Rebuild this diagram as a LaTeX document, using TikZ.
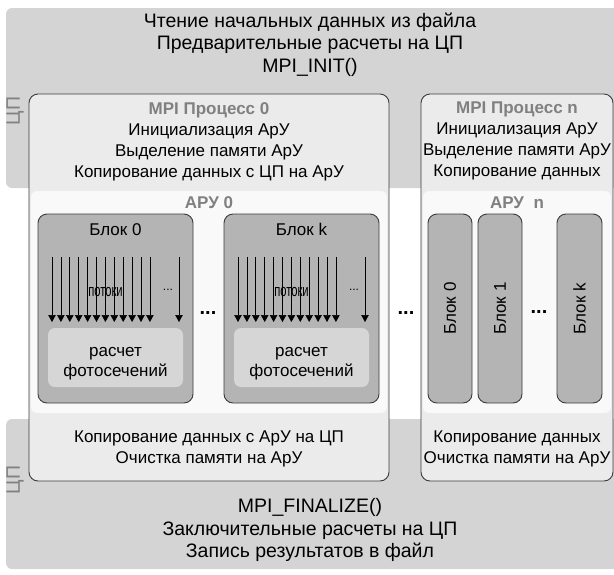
\documentclass[tikz,border=0pt]{standalone}
\usepackage{fontspec}
\setmainfont{Liberation Sans}
\usetikzlibrary{positioning,arrows.meta}
\definecolor{cpubg}{HTML}{D4D4D4}
\definecolor{procbg}{HTML}{EBEBEB}
\definecolor{arubg}{HTML}{F9F9F9}
\definecolor{blockbg}{HTML}{B4B4B4}
\definecolor{calcbg}{HTML}{D6D6D6}
\definecolor{lblgray}{HTML}{808080}
\definecolor{edgegray}{HTML}{3C3C3C}

\tikzset{
  box/.style={anchor=north west, inner sep=0pt, outer sep=0pt},
  band/.style={box, fill=cpubg, rounded corners=6pt},
  procbox/.style={box, draw=edgegray, fill=procbg, rounded corners=9pt, line width=0.9pt, minimum height=387pt},
  arubox/.style={box, fill=arubg, rounded corners=6pt, minimum height=222pt},
  blockbox/.style={box, draw=edgegray, fill=blockbg, rounded corners=9pt, line width=0.9pt, minimum height=189pt},
  calcbox/.style={box, fill=calcbg, rounded corners=7pt, minimum width=135pt, minimum height=59pt},
  bigtext/.style={inner sep=0pt, anchor=north, align=center, font=\fontsize{19.5}{22.5}\selectfont},
  proctext/.style={inner sep=0pt, anchor=north, align=center, font=\fontsize{17}{21}\selectfont},
  arutitle/.style={inner sep=0pt, anchor=base, text=lblgray, font=\fontsize{17}{20}\selectfont\bfseries},
  blocktext/.style={inner sep=0pt, font=\fontsize{17}{20}\selectfont},
  cpulabel/.style={inner sep=0pt, rotate=90, text=lblgray, font=\fontsize{19.5}{22}\selectfont},
  threadtext/.style={inner sep=0pt, anchor=base, font=\fontsize{17}{19}\selectfont},
  smalldots/.style={inner sep=0pt, anchor=base, font=\fontsize{12}{14}\selectfont},
  dots/.style={inner sep=0pt, font=\fontsize{20}{22}\selectfont\bfseries},
  thread/.style={-{Triangle[width=7.5pt,length=7pt]}, line width=0.7pt},
}

\begin{document}
\begin{tikzpicture}[x=1pt, y=-1pt]
  \useasboundingbox (0,0) rectangle (614,574);

  % CPU bands, top and bottom
  \node[band, minimum width=620pt, minimum height=180pt] (cpuTop) at (6,8) {};
  \node[band, minimum width=620pt, minimum height=150pt] (cpuBot) at (6,419) {};
  \node[cpulabel] (cpuTopLbl) at (15,111) {ЦП};
  \node[cpulabel] (cpuBotLbl) at (15,480) {ЦП};
  \node[bigtext] (initTxt) at (310,12.5) {Чтение начальных данных из файла\\Предварительные расчеты на ЦП\\MPI\_INIT()};
  \node[bigtext] (finTxt) at (310,498.5) {MPI\_FINALIZE()\\Заключительные расчеты на ЦП\\Запись результатов в файл};

  % MPI process 0 (x: 29 to 389)
  \node[procbox, minimum width=360pt] (proc0) at (29,94) {};
  \node[proctext] (proc0Top) at (209,102) {{\bfseries\color{lblgray}MPI Процесс 0}\\Инициализация АрУ\\Выделение памяти АрУ\\Копирование данных с ЦП на АрУ};
  \node[arubox, minimum width=356pt] (aru0) at (31,191) {};
  \node[arutitle] (aru0Ttl) at (209,208) {АРУ 0};
  \node[proctext] (proc0Bot) at (209,431) {Копирование данных с АрУ на ЦП\\Очистка памяти на АрУ};

  % Block 0 of APU 0
  \node[blockbox, minimum width=155pt] (block0) at (38,214) {};
  \node[blocktext, anchor=base] (block0Ttl) at (115.5,235) {Блок 0};
  \foreach \i in {0,...,11} {
    \coordinate (t0s\i) at (52+8.9*\i,257);
    \coordinate (t0e\i) at (52+8.9*\i,322);
    \draw[thread] (t0s\i) -- (t0e\i);
  }
  \coordinate (t0sn) at (179,257);
  \coordinate (t0en) at (179,322);
  \draw[thread] (t0sn) -- (t0en);
  \node[threadtext] (thr0) at (105.5,296) {\scalebox{0.66}[1]{потоки}};
  \node[smalldots] (thr0Dots) at (168,290) {...};
  \node[calcbox] (calc0) at (48,328) {};
  \node[blocktext, align=center] (calc0Txt) at (115.5,364) {расчет\\фотосечений};

  \node[dots] (blkDots) at (208,313) {...};

  % Block k of APU 0
  \node[blockbox, minimum width=155pt] (blockk) at (224,214) {};
  \node[blocktext, anchor=base] (blockkTtl) at (301.5,235) {Блок k};
  \foreach \i in {0,...,11} {
    \coordinate (tks\i) at (238+8.9*\i,257);
    \coordinate (tke\i) at (238+8.9*\i,322);
    \draw[thread] (tks\i) -- (tke\i);
  }
  \coordinate (tksn) at (365,257);
  \coordinate (tken) at (365,322);
  \draw[thread] (tksn) -- (tken);
  \node[threadtext] (thrk) at (291.5,296) {\scalebox{0.66}[1]{потоки}};
  \node[smalldots] (thrkDots) at (354,290) {...};
  \node[calcbox] (calck) at (234,328) {};
  \node[blocktext, align=center] (calckTxt) at (301.5,364) {расчет\\фотосечений};

  \node[dots] (procDots) at (406,313) {...};

  % MPI process n (x: 421 to 613)
  \node[procbox, minimum width=192pt] (procn) at (421,94) {};
  \node[proctext] (procnTop) at (517,102) {{\bfseries\color{lblgray}MPI Процесс n}\\Инициализация АрУ\\Выделение памяти АрУ\\Копирование данных};
  \node[arubox, minimum width=188pt] (arun) at (423,191) {};
  \node[arutitle] (arunTtl) at (517,208) {АРУ~~n};
  \node[proctext] (procnBot) at (517,431) {Копирование данных\\Очистка памяти на АрУ};

  % Blocks of APU n
  \node[blockbox, minimum width=44pt] (blkn0) at (428,214) {};
  \node[blockbox, minimum width=44pt] (blkn1) at (478,214) {};
  \node[blockbox, minimum width=45pt] (blknk) at (557,214) {};
  \node[blocktext, rotate=90] (blkn0Txt) at (blkn0.center) {Блок 0};
  \node[blocktext, rotate=90] (blkn1Txt) at (blkn1.center) {Блок 1};
  \node[blocktext, rotate=90] (blknkTxt) at (blknk.center) {Блок k};
  \node[dots] (blknDots) at (539,312) {...};
\end{tikzpicture}
\end{document}
